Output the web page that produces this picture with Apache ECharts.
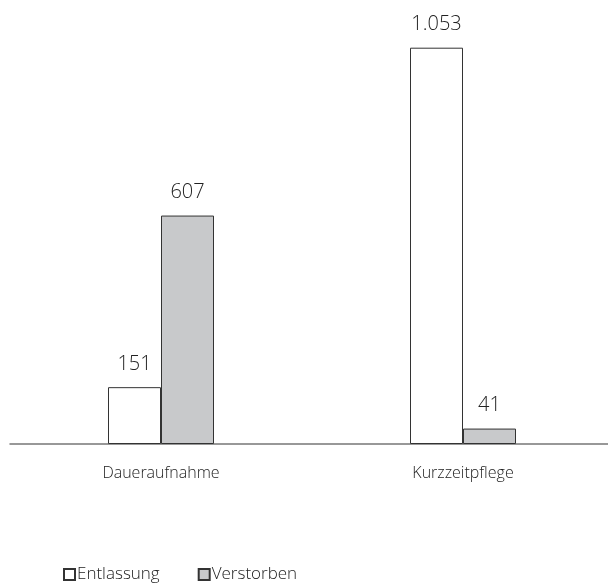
<!DOCTYPE html>
<html>
<head>
<meta charset="utf-8">
<script src="https://cdn.jsdelivr.net/npm/echarts@6/dist/echarts.min.js"></script>
<style>
  html, body { margin: 0; padding: 0; background: #fff; overflow: hidden; }
  /* the plot runs slightly past the right edge of the page */
  #chart { width: 614px; height: 586px; }
</style>
</head>
<body>
<div id="chart"></div>
<script>
// Aufnahmeart
const categories = ['Daueraufnahme', 'Kurzzeitpflege'];
// Anzahl der Fälle
const entlassung = [151, 1053];
const verstorben = [607, 41];

// German thousands separator: 1053 -> "1.053"
function fmt(v) {
  return String(v).replace(/\B(?=(\d{3})+(?!\d))/g, '.');
}

const FONT = '"Open Sans", Lato, sans-serif';

const chart = echarts.init(document.getElementById('chart'), null, { renderer: 'canvas' });
chart.setOption({
  animation: false,
  backgroundColor: '#ffffff',
  grid: { left: 10, right: 0, top: 30, bottom: 142, containLabel: false },
  legend: {
    left: 58,
    top: 561,
    icon: 'rect',
    itemWidth: 11,
    itemHeight: 11,
    itemGap: 38,
    textStyle: { fontFamily: FONT, fontWeight: 300, fontSize: 17, color: '#222', padding: [0, 0, 0, -3] },
    data: ['Entlassung', 'Verstorben']
  },
  xAxis: {
    type: 'category',
    data: categories,
    axisLine: { lineStyle: { color: '#777', width: 1.5 } },
    axisTick: { show: false },
    axisLabel: { margin: 21, fontFamily: FONT, fontWeight: 300, fontSize: 16, color: '#222' }
  },
  yAxis: {
    type: 'value',
    min: 0,
    max: 1100,
    show: false,
    splitLine: { show: false }
  },
  series: [
    {
      name: 'Entlassung',
      type: 'bar',
      data: entlassung,
      barWidth: 53,
      barGap: '0%',
      itemStyle: { color: '#ffffff', borderColor: '#333', borderWidth: 1 },
      label: {
        show: true, position: 'top', distance: 13,
        fontFamily: FONT, fontWeight: 300, fontSize: 20, color: '#222',
        formatter: p => fmt(p.value)
      }
    },
    {
      name: 'Verstorben',
      type: 'bar',
      data: verstorben,
      barWidth: 53,
      barGap: '0%',
      itemStyle: { color: '#c8c9cb', borderColor: '#333', borderWidth: 1 },
      label: {
        show: true, position: 'top', distance: 13,
        fontFamily: FONT, fontWeight: 300, fontSize: 20, color: '#222',
        formatter: p => fmt(p.value)
      }
    }
  ]
});
</script>
</body>
</html>
